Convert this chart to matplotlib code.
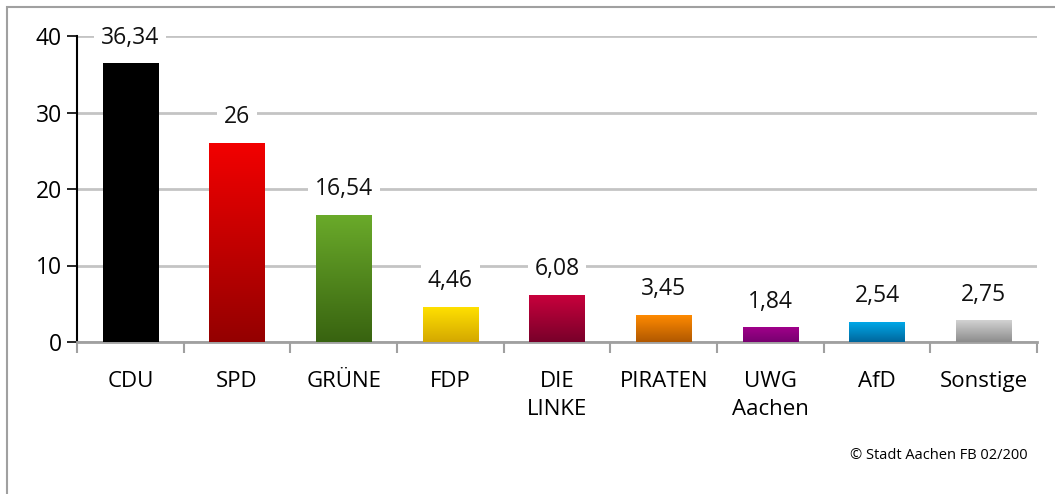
import numpy as np
import matplotlib
matplotlib.use("Agg")
import matplotlib.pyplot as plt
from matplotlib.colors import LinearSegmentedColormap
from matplotlib.patches import Rectangle

plt.rcParams['font.family'] = ['Open Sans', 'DejaVu Sans']

# Daten
parteien = ['CDU', 'SPD', 'GRÜNE', 'FDP', 'DIE\nLINKE', 'PIRATEN', 'UWG\nAachen', 'AfD', 'Sonstige']
anteile = [36.34, 26, 16.54, 4.46, 6.08, 3.45, 1.84, 2.54, 2.75]
beschriftung = ['36,34', '26', '16,54', '4,46', '6,08', '3,45', '1,84', '2,54', '2,75']
farbe_oben = ['#000000', '#f20000', '#6aaa2a', '#ffe000', '#c8003c', '#ff8a00', '#a0008a', '#00a8e8', '#d2d2d2']
farbe_unten = ['#000000', '#940000', '#386310', '#d4a800', '#78002a', '#b05800', '#780070', '#00669c', '#8c8c8c']

fig = plt.figure(figsize=(10.55, 4.94), dpi=100)

# Rahmen um die Grafik
fig.patches.append(Rectangle((7 / 1055, -0.2), 1.2, 1.2 - 7 / 494,
                             transform=fig.transFigure, fill=False,
                             edgecolor='#a0a0a0', linewidth=1.5))

ax = fig.add_axes([77 / 1055, 1 - 342 / 494, (1037 - 77) / 1055, (342 - 36) / 494])

x = np.arange(len(parteien))
breite = 0.52
balken = ax.bar(x, anteile, width=breite, color='none', zorder=3)

# Farbverlauf in jedem Balken
verlauf = np.linspace(1, 0, 256).reshape(-1, 1)
for i, b in enumerate(balken):
    cmap = LinearSegmentedColormap.from_list('v%d' % i, [farbe_unten[i], farbe_oben[i]])
    x0 = b.get_x()
    ax.imshow(verlauf, cmap=cmap, extent=[x0, x0 + b.get_width(), 0, b.get_height()],
              aspect='auto', zorder=3, vmin=0, vmax=1)

ax.set_xlim(-0.5, len(parteien) - 0.5)
ax.set_ylim(0, 40)

# Werte über den Balken
for i, v in enumerate(anteile):
    ax.annotate(beschriftung[i], (x[i], v), xytext=(0, 19), textcoords='offset points',
                ha='center', va='center', fontsize=16.5, color='#111111',
                bbox=dict(boxstyle='square,pad=0.3', fc='white', ec='none'), zorder=4)

ax.set_yticks([0, 10, 20, 30, 40])
ax.tick_params(axis='y', labelsize=16.5, length=7, width=1.2, direction='out', pad=4)
ax.yaxis.grid(True, color='#c4c4c4', linewidth=2)
ax.set_axisbelow(True)

ax.set_xticks(x)
ax.set_xticklabels(parteien, fontsize=16, linespacing=1.45, va='top')
ax.tick_params(axis='x', which='major', length=0, pad=21)
ax.set_xticks(np.arange(len(parteien) + 1) - 0.5, minor=True)
ax.tick_params(axis='x', which='minor', length=8, width=1.5, color='#a0a0a0', direction='out')

for s in ['top', 'right']:
    ax.spines[s].set_visible(False)
ax.spines['left'].set_linewidth(1.5)
ax.spines['bottom'].set_color('#a0a0a0')
ax.spines['bottom'].set_linewidth(2)

fig.text(1028 / 1055, 1 - 455 / 494, '© Stadt Aachen FB 02/200', ha='right', va='center',
         fontsize=10.5)

fig.savefig('out.png', dpi=100)
